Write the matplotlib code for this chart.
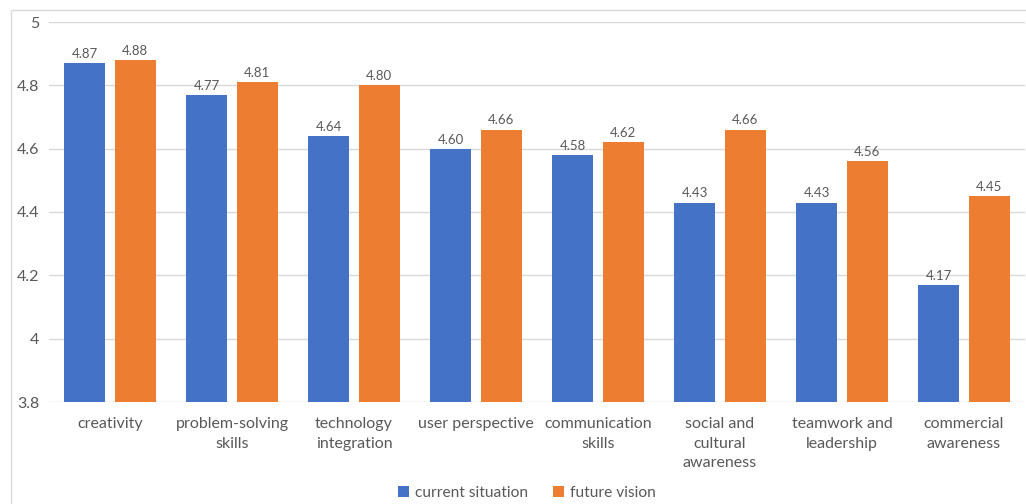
import matplotlib.pyplot as plt
import matplotlib.patches as mpatches
import numpy as np

categories = ["creativity", "problem-solving\nskills", "technology\nintegration",
              "user perspective", "communication\nskills", "social and\ncultural\nawareness",
              "teamwork and\nleadership", "commercial\nawareness"]
current = [4.87, 4.77, 4.64, 4.60, 4.58, 4.43, 4.43, 4.17]
future = [4.88, 4.81, 4.80, 4.66, 4.62, 4.66, 4.56, 4.45]
yticks = [3.8, 4, 4.2, 4.4, 4.6, 4.8, 5]
ylabels = ["3.8", "4", "4.2", "4.4", "4.6", "4.8", "5"]

blue = "#4472C4"
orange = "#ED7D31"
txt = "#595959"
plt.rcParams['font.family'] = ['Lato', 'DejaVu Sans']

fig = plt.figure(figsize=(10.26, 5.04), dpi=100)
ax = fig.add_axes([49/1026, 1-402/504, 976/1026, 380/504])

# outer frame
fig.patches.append(mpatches.Rectangle((11/1026, -0.05), 1.1, 1-10/504+0.05,
                                      transform=fig.transFigure, fill=False,
                                      edgecolor="#D9D9D9", linewidth=1))

x = np.arange(len(categories))
w = 0.336
off = 0.208
b1 = ax.bar(x - off, [c - 3.8 for c in current], w, bottom=3.8, color=blue, label="current situation")
b2 = ax.bar(x + off, [f - 3.8 for f in future], w, bottom=3.8, color=orange, label="future vision")
for xi, v in zip(x - off, current):
    ax.text(xi, v + 0.01, f"{v:.2f}", ha="center", va="bottom", fontsize=9.5, color=txt)
for xi, v in zip(x + off, future):
    ax.text(xi, v + 0.01, f"{v:.2f}", ha="center", va="bottom", fontsize=9.5, color=txt)

ax.set_xlim(-0.5, len(categories) - 0.5)
ax.set_ylim(3.8, 5)
ax.set_yticks(yticks)
ax.set_yticklabels(ylabels)
ax.set_xticks(x)
ax.set_xticklabels(categories, linespacing=1.5)
ax.tick_params(axis="both", length=0, labelsize=11.5, colors=txt)
ax.tick_params(axis="x", pad=11)
ax.tick_params(axis="y", pad=7)
ax.grid(axis="y", color="#D9D9D9", linewidth=1)
ax.set_axisbelow(True)
for s in ax.spines.values():
    s.set_visible(False)

fig.legend(handles=[b1, b2], loc="center", bbox_to_anchor=(527/1026, 1-493/504), ncol=2,
           frameon=False, fontsize=11.2, labelcolor=txt, handlelength=0.7, handleheight=0.7,
           handletextpad=0.4, columnspacing=1.6)

fig.savefig("out.png", dpi=100)
